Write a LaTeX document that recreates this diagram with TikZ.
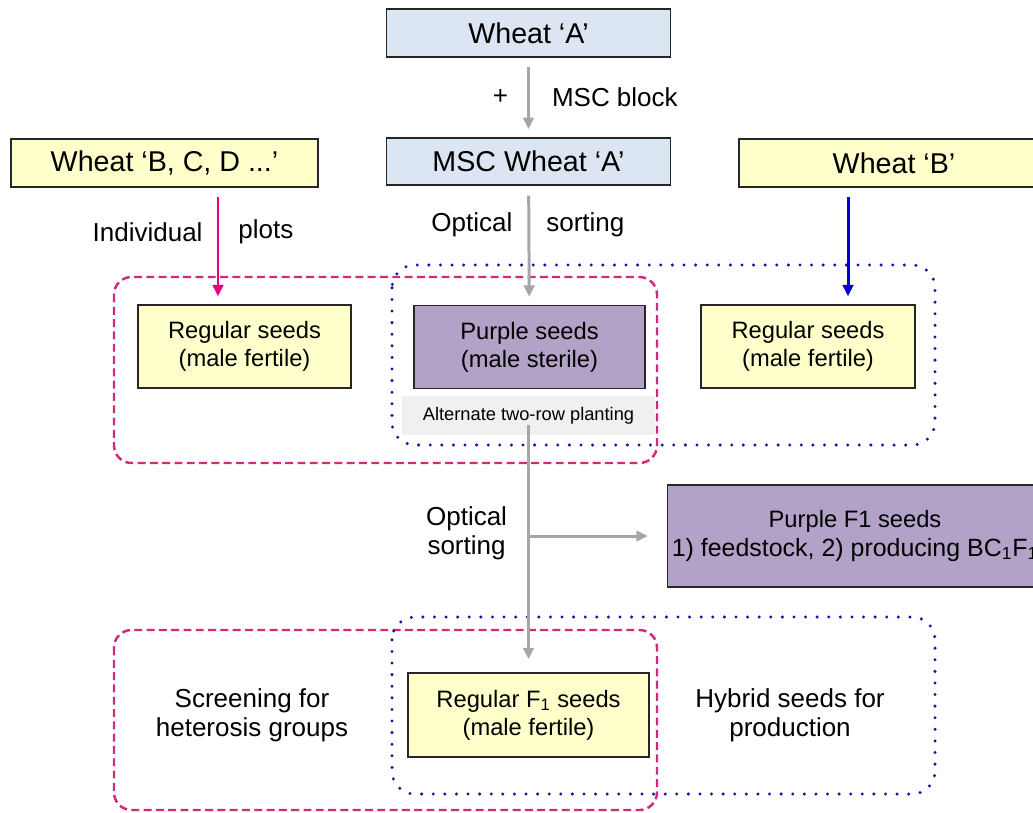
\documentclass[tikz,border=0pt]{standalone}
\usepackage{fontspec}
\setmainfont{Liberation Sans}
\usetikzlibrary{arrows.meta}

\definecolor{wheatblue}{RGB}{220,230,242}
\definecolor{seedyellow}{RGB}{255,255,204}
\definecolor{seedpurple}{RGB}{179,162,199}
\definecolor{plantgray}{RGB}{240,240,240}
\definecolor{arrowgray}{RGB}{166,166,166}
\definecolor{plotpink}{RGB}{230,0,126}
\definecolor{grppink}{RGB}{214,40,122}
\definecolor{grpblue}{RGB}{20,20,160}
\definecolor{hybblue}{RGB}{0,0,215}

\begin{document}
\begin{tikzpicture}[x=0.02cm,y=-0.02cm,
    box/.style={draw=black!85,line width=0.9pt,inner sep=0pt,align=center,font=\fontsize{13.5}{16}\selectfont},
    wheat node/.style={box,font=\fontsize{16.3}{19}\selectfont,minimum height=0.95cm},
    seed node/.style={box,minimum height=1.66cm},
    lbl/.style={font=\fontsize{14.8}{16.4}\selectfont,inner sep=0pt,align=center},
    gray arrow/.style={draw=arrowgray,line width=1.7pt,-{Triangle[width=6pt,length=6.5pt]},shorten <=5.5pt,shorten >=4.5pt},
    pink arrow/.style={gray arrow,draw=plotpink},
    blue arrow/.style={gray arrow,draw=hybblue},
    pink group/.style={draw=grppink,line width=1.4pt,dash pattern=on 4.5pt off 2.5pt,rounded corners=10pt},
    blue group/.style={draw=grpblue,line width=1.9pt,line cap=round,dash pattern=on 0pt off 6.6pt,rounded corners=13pt}]
    \useasboundingbox (0,0) rectangle (1033,812);

    \draw[pink group] (114,277) rectangle (657,463);
    \draw[blue group] (392,265) rectangle (935,445);
    \draw[pink group] (114,630) rectangle (657,810);
    \draw[blue group] (392,617) rectangle (935,794);

    \node[wheat node, fill=wheatblue, minimum width=5.68cm] (wa) at (528.5,33) {Wheat ‘A’};
    \node[wheat node, fill=wheatblue, minimum width=5.68cm] (msc) at (528.5,161.5) {MSC Wheat ‘A’};
    \node[wheat node, fill=seedyellow, minimum width=6.14cm] (bcd) at (164.5,163) {Wheat ‘B, C, D ...’};
    \node[wheat node, fill=seedyellow, minimum width=6.2cm] (wb) at (894,163) {Wheat ‘B’};

    \node[seed node, fill=seedyellow, minimum width=4.26cm] (reg1) at (244.5,346.5) {Regular seeds\\(male fertile)};
    \node[seed node, fill=seedpurple, minimum width=4.62cm] (purple) at (529.5,347) {Purple seeds\\(male sterile)};
    \node[seed node, fill=seedyellow, minimum width=4.28cm] (reg2) at (808,346.5) {Regular seeds\\(male fertile)};
    \node[fill=plantgray, minimum width=5.08cm, minimum height=0.78cm, font=\fontsize{10.4}{12}\selectfont] (alt) at (528.5,415.5) {Alternate two-row planting};

    \node[box, fill=seedpurple, minimum width=7.5cm, minimum height=2.04cm] (f1p) at (855,536) {Purple F1 seeds\\{\fontsize{14.2}{16}\selectfont 1) feedstock, 2) producing BC\textsubscript{1}F\textsubscript{1}}};
    \node[seed node, fill=seedyellow, minimum width=4.82cm, minimum height=1.68cm] (f1r) at (528.5,715) {Regular F\textsubscript{1} seeds\\(male fertile)};
    \node[lbl] (screen) at (252,715) {Screening for\\heterosis groups};
    \node[lbl] (hybrid) at (790,715) {Hybrid seeds for\\production};

    \draw[gray arrow] (wa) -- node[lbl, left=0.38cm] {+} node[lbl, right=0.44cm] {MSC block} (msc);
    \draw[gray arrow] (msc) -- node[lbl, pos=.33, left=0.3cm] {Optical} node[lbl, pos=.33, right=0.32cm] {sorting} (purple);
    \draw[pink arrow] (bcd.south -| 218,0) -- node[lbl, pos=.38, left=0.28cm] {Individual} node[lbl, pos=.38, right=0.38cm] {plots} (reg1.north -| 218,0);
    \draw[blue arrow] (wb.south -| 848,0) -- (reg2.north -| 848,0);

    \coordinate (br) at (alt.south |- f1p.west);
    \draw[gray arrow, shorten <=0pt, shorten >=7.4pt] ([yshift=6pt]alt.south) -- node[lbl, pos=.44, left=0.4cm] {Optical\\sorting} (f1r);
    \draw[gray arrow, shorten <=0pt, shorten >=10.8pt] (br) -- (f1p);
\end{tikzpicture}
\end{document}
